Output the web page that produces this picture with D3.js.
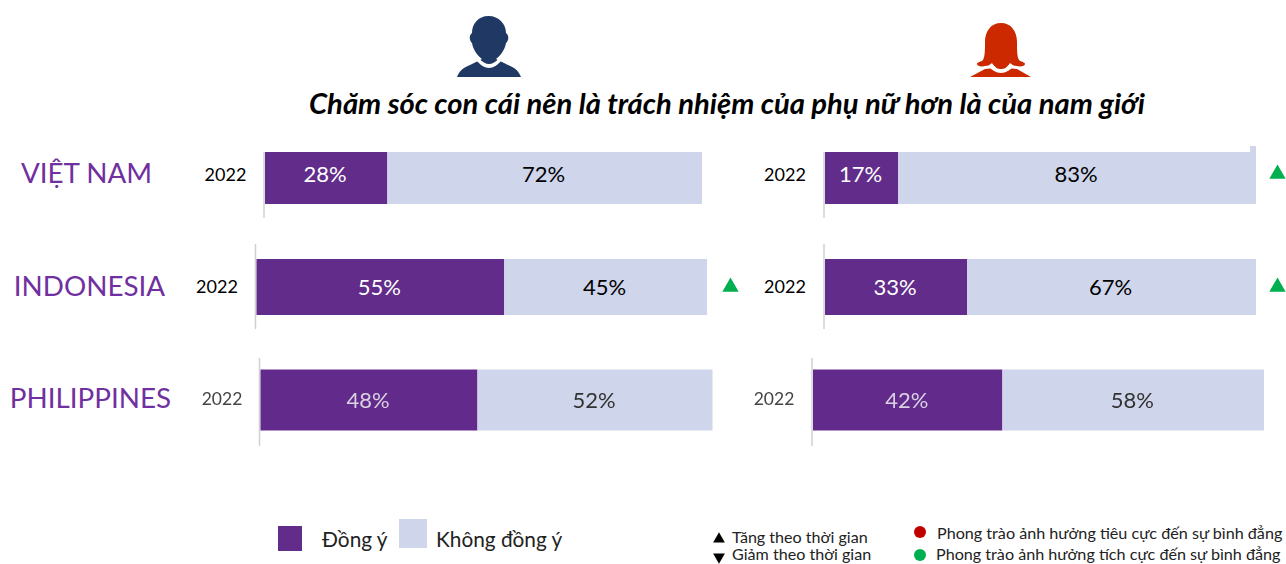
<!DOCTYPE html>
<html><head><meta charset="utf-8">
<script src="https://cdn.jsdelivr.net/npm/d3@7/dist/d3.min.js"></script>
<style>html,body{margin:0;background:#fff;overflow:hidden}svg{display:block}text{font-family:Lato,"Open Sans","Noto Sans",sans-serif}</style>
</head><body><div id="c"></div>
<script>
// DATA
const countries = ["VIỆT NAM", "INDONESIA", "PHILIPPINES"];
const years = ["2022", "2022", "2022"];
const maleAgree = [28, 55, 48];
const femaleAgree = [17, 33, 42];
const maleDisagree = [72, 45, 52];
const femaleDisagree = [83, 67, 58];
const maleTrendUp = [false, true, false];
const femaleTrendUp = [true, true, false];
const title = "Chăm sóc con cái nên là trách nhiệm của phụ nữ hơn là của nam giới";
const seriesNames = ["Đồng ý", "Không đồng ý"];
const trendNotes = ["Tăng theo thời gian", "Giảm theo thời gian"];
const dotNotes = ["Phong trào ảnh hưởng tiêu cực đến sự bình đẳng", "Phong trào ảnh hưởng tích cực đến sự bình đẳng"];

// LAYOUT
const W = 1286, H = 564;
const PURPLE = "#622c8a", LIGHT = "#cfd5ea", GREEN = "#00b050", RED = "#c00000", LABEL = "#7030a0";
const rowBands = [{top:152,bottom:204,axisTop:152,axisBottom:218,value:182,year:181,lab:183,tri:174},
                  {top:259,bottom:315,axisTop:244,axisBottom:329,value:295,year:293,lab:296,tri:287},
                  {top:369.5,bottom:430.5,axisTop:358,axisBottom:446,value:408,year:405,lab:408,tri:400}];
const rowInk = [{a:"#fff",d:"#000",y:"#000"},{a:"#fff",d:"#000",y:"#000"},{a:"#d9d0e4",d:"#333",y:"#444"}];
const leftRanges = [[265,702],[256.5,707],[260.5,712.5]];
const rightRanges = [[825,1256],[825,1256],[813,1264]];
const leftYearX = [225.5,217,222], rightYearX = [785,785,774];
const labelX = [86.5,89.5,90.5];

const svg = d3.select("#c").append("svg").attr("width",W).attr("height",H).attr("viewBox",`0 0 ${W} ${H}`);
const defs = svg.append("defs");
defs.append("filter").attr("id","soft").attr("x","-5%").attr("y","-5%").attr("width","110%").attr("height","110%")
  .append("feGaussianBlur").attr("stdDeviation",0.6);

// Icons
const male = svg.append("g").attr("fill","#1f3864");
male.append("path").attr("d","M488.5 16 C478 16 472 24 472 33 C469 35 469 40 472 43 C473 50 478 56 482 59 L470 65 C462 68 459 72 457 77 L521 77 C519 72 516 68 508 65 L496 59 C500 56 505 50 506 43 C509 40 509 35 506 33 C506 24 499 16 488.5 16 Z");
male.append("path").attr("fill","#fff").attr("d","M479 58 C482 62 486 64 489 64 C492 64 496 62 499 58 L502 60 C498 65 493 68 489 68 C485 68 480 65 476 60 Z");
const female = svg.append("g").attr("fill","#cd2900");
female.append("path").attr("d","M1001 23 C991 23 985 31 985 42 C985 50 985 56 983 60 C981 62 977 62 977 64 C977 66 981 67 985 66 C988 66 990 65 992 64 L996 68 L985 69 L970 77 L1031 77 L1017 69 L1006 68 L1010 64 C1012 65 1014 66 1017 66 C1021 67 1025 66 1025 64 C1025 62 1021 62 1019 60 C1017 56 1017 50 1017 42 C1017 31 1011 23 1001 23 Z");
female.append("path").attr("fill","#fff").attr("d","M988 66 C992 70 996 73 1001 73 C1006 73 1010 70 1014 66 L1010 63 C1007 68 1004 69 1001 69 C998 69 995 68 992 63 Z");

svg.append("text").attr("x",727).attr("y",114).attr("text-anchor","middle")
  .attr("font-size",29.2).attr("font-weight",700).attr("font-style","italic").attr("fill","#000").text(title);

function panel(ranges, agree, disagree, yearX, up, triX){
  countries.forEach((c,i)=>{
    const b = rowBands[i], ink = rowInk[i];
    const x = d3.scaleLinear().domain([0,100]).range(ranges[i]);
    const g = svg.append("g");
    if(i===2) g.attr("filter","url(#soft)");
    g.append("line").attr("x1",x(0)-1).attr("x2",x(0)-1).attr("y1",b.axisTop).attr("y2",b.axisBottom)
      .attr("stroke","#d0d0d0").attr("stroke-width",1.5);
    g.append("rect").attr("x",x(0)).attr("y",b.top).attr("width",x(agree[i])-x(0)).attr("height",b.bottom-b.top).attr("fill",PURPLE);
    g.append("rect").attr("x",x(agree[i])).attr("y",b.top).attr("width",x(100)-x(agree[i])).attr("height",b.bottom-b.top).attr("fill",LIGHT);
    g.append("text").attr("x",(x(0)+x(agree[i]))/2-1).attr("y",b.value).attr("text-anchor","middle").attr("font-size",22)
      .attr("fill",ink.a).text(agree[i]+"%");
    g.append("text").attr("x",(x(agree[i])+x(100))/2-1).attr("y",b.value).attr("text-anchor","middle").attr("font-size",22)
      .attr("fill",ink.d).text(disagree[i]+"%");
    g.append("text").attr("x",yearX[i]).attr("y",b.year).attr("text-anchor","middle").attr("font-size",i===2?17.5:18)
      .attr("fill",ink.y).text(years[i]);
    if(up[i]) svg.append("path").attr("d",d3.symbol(d3.symbolTriangle,115)())
      .attr("transform",`translate(${triX},${b.tri})`).attr("fill",GREEN);
  });
}
panel(leftRanges,maleAgree,maleDisagree,leftYearX,maleTrendUp,730.5);
panel(rightRanges,femaleAgree,femaleDisagree,rightYearX,femaleTrendUp,1277.5);

// notch on top of first right bar
svg.append("rect").attr("x",1250).attr("y",146).attr("width",6).attr("height",7).attr("fill",LIGHT);

countries.forEach((c,i)=>{
  svg.append("text").attr("x",labelX[i]).attr("y",rowBands[i].lab).attr("text-anchor","middle")
    .attr("font-size",27.8).attr("fill",LABEL).text(c);
});

// Legend
svg.append("rect").attr("x",278).attr("y",526).attr("width",24).attr("height",25).attr("fill",PURPLE);
svg.append("rect").attr("x",399).attr("y",519).attr("width",28).attr("height",29).attr("fill",LIGHT);
svg.append("text").attr("x",322).attr("y",547).attr("font-size",20.8).attr("fill","#222").text(seriesNames[0]);
svg.append("text").attr("x",436).attr("y",547).attr("font-size",20.8).attr("fill","#222").text(seriesNames[1]);

svg.append("path").attr("d",d3.symbol(d3.symbolTriangle,60)()).attr("transform","translate(719,539)").attr("fill","#000");
svg.append("path").attr("d",d3.symbol(d3.symbolTriangle,60)()).attr("transform","translate(719,557) rotate(180)").attr("fill","#000");
svg.append("text").attr("x",732).attr("y",543).attr("font-size",16.1).attr("fill","#222").text(trendNotes[0]);
svg.append("text").attr("x",732).attr("y",560).attr("font-size",16.1).attr("fill","#222").text(trendNotes[1]);
svg.append("circle").attr("cx",920).attr("cy",532).attr("r",6).attr("fill",RED);
svg.append("circle").attr("cx",920).attr("cy",555).attr("r",6).attr("fill",GREEN);
svg.append("text").attr("x",937).attr("y",539).attr("font-size",16.15).attr("fill","#222").text(dotNotes[0]);
svg.append("text").attr("x",936).attr("y",560).attr("font-size",16.15).attr("fill","#222").text(dotNotes[1]);
</script></body></html>
